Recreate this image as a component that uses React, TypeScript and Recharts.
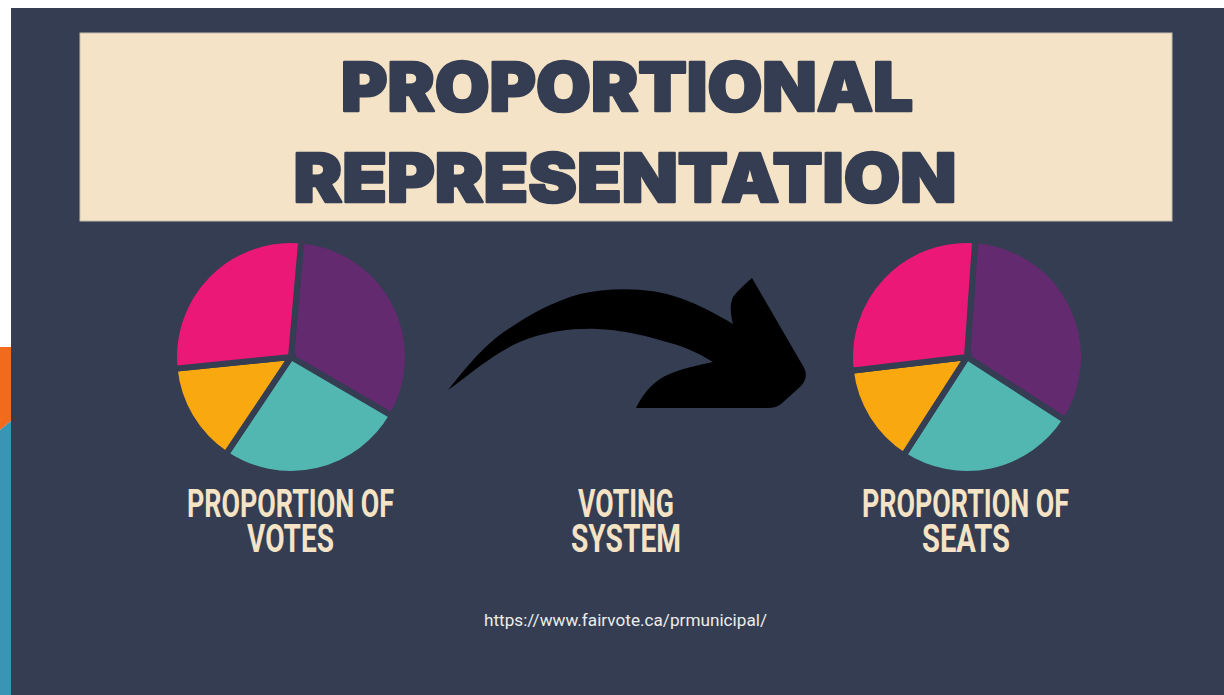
import React from "react";
import { PieChart, Pie, Cell } from "recharts";

const parties = ["Purple", "Teal", "Yellow", "Pink"];
const partyColors = ["#632a6f", "#52b6b1", "#f9a80f", "#ec1877"];
const voteShares = [32, 26, 14, 28];
const seatShares = [33, 25, 14, 28];

const titleLines = ["PROPORTIONAL", "REPRESENTATION"];
const votesLabel = ["PROPORTION OF", "VOTES"];
const systemLabel = ["VOTING", "SYSTEM"];
const seatsLabel = ["PROPORTION OF", "SEATS"];
const sourceUrl = "https://www.fairvote.ca/prmunicipal/";

const NAVY = "#343d52";
const BEIGE = "#f4e3c6";

const votesData = parties.map((p, i) => ({ name: p, value: voteShares[i] }));
const seatsData = parties.map((p, i) => ({ name: p, value: seatShares[i] }));

const W = 1224;
const H = 695;

export default function App() {
  const labelStyle: React.CSSProperties = {
    fontFamily: "Roboto, 'DejaVu Sans', sans-serif",
    fontWeight: 700,
  };
  return (
    <div style={{ position: "absolute", left: 0, top: 0, width: W, height: H, background: "#ffffff", overflow: "hidden" }}>
      {/* background layer */}
      <svg width={W} height={H} style={{ position: "absolute", left: 0, top: 0 }}>
        <rect x={0} y={0} width={W} height={H} fill="#ffffff" />
        <polygon points="0,347 11,347 11,421 0,430" fill="#f26a1b" />
        <polygon points="0,430 11,421 11,695 0,695" fill="#3a95b5" />
        <rect x={11} y={8} width={W - 11} height={H - 8} fill={NAVY} />
        <rect x={80} y={33} width={1092} height={188} fill={BEIGE} stroke="#c8bfae" strokeWidth={1} />
        <path
          d="M 448 390 C 458 378, 475 355, 497 337 C 520 320, 548 303, 580 294 C 610 287, 650 287, 680 298 C 700 305, 718 315, 733 324 C 731 316, 729 306, 733 297 C 738 290, 745 284, 752 278 L 803 366 C 808 374, 806 381, 800 387 L 781 404 C 777 407, 773 408, 768 408 L 636 408 C 642 396, 650 384, 665 376 C 680 369, 698 365, 713 362 C 697 352, 680 345, 663 341 C 640 334, 620 330, 597 329 C 575 328, 552 331, 530 338 C 510 345, 495 355, 480 366 C 468 375, 458 383, 448 390 Z"
          fill="#000000"
        />
      </svg>

      {/* pies */}
      <div style={{ position: "absolute", left: 0, top: 0 }}>
        <PieChart width={W} height={H} margin={{ top: 0, right: 0, bottom: 0, left: 0 }}>
          <Pie
            data={votesData}
            dataKey="value"
            nameKey="name"
            cx={291}
            cy={357}
            innerRadius={0}
            outerRadius={117}
            startAngle={85}
            endAngle={-275}
            stroke={NAVY}
            strokeWidth={6}
            isAnimationActive={false}
            label={false}
            labelLine={false}
          >
            {votesData.map((d, i) => (
              <Cell key={d.name} fill={partyColors[i]} stroke={NAVY} strokeWidth={6} />
            ))}
          </Pie>
          <Pie
            data={seatsData}
            dataKey="value"
            nameKey="name"
            cx={967}
            cy={357}
            innerRadius={0}
            outerRadius={117}
            startAngle={86}
            endAngle={-274}
            stroke={NAVY}
            strokeWidth={6}
            isAnimationActive={false}
            label={false}
            labelLine={false}
          >
            {seatsData.map((d, i) => (
              <Cell key={d.name} fill={partyColors[i]} stroke={NAVY} strokeWidth={6} />
            ))}
          </Pie>
        </PieChart>
      </div>

      {/* text layer */}
      <svg width={W} height={H} style={{ position: "absolute", left: 0, top: 0, pointerEvents: "none" }}>
        <g
          style={{ fontFamily: "Inter, Lato, 'DejaVu Sans', sans-serif", fontWeight: 900 }}
          fill={NAVY}
          stroke={NAVY}
          strokeWidth={2.5}
          strokeLinejoin="round"
        >
          <text x={627} y={111} fontSize={67} textAnchor="middle" textLength={572} lengthAdjust="spacingAndGlyphs">
            {titleLines[0]}
          </text>
          <text x={625} y={202} fontSize={67} textAnchor="middle" textLength={663} lengthAdjust="spacingAndGlyphs">
            {titleLines[1]}
          </text>
        </g>
        <g style={labelStyle} fill="#f5e3c5" fontSize={39}>
          <text x={290.5} y={517} textAnchor="middle" textLength={207} lengthAdjust="spacingAndGlyphs">{votesLabel[0]}</text>
          <text x={290.5} y={552} textAnchor="middle" textLength={87} lengthAdjust="spacingAndGlyphs">{votesLabel[1]}</text>
          <text x={626} y={517} textAnchor="middle" textLength={96} lengthAdjust="spacingAndGlyphs">{systemLabel[0]}</text>
          <text x={626} y={552} textAnchor="middle" textLength={110} lengthAdjust="spacingAndGlyphs">{systemLabel[1]}</text>
          <text x={965.5} y={517} textAnchor="middle" textLength={207} lengthAdjust="spacingAndGlyphs">{seatsLabel[0]}</text>
          <text x={966} y={552} textAnchor="middle" textLength={88} lengthAdjust="spacingAndGlyphs">{seatsLabel[1]}</text>
        </g>
        <text
          x={625.5}
          y={626}
          textAnchor="middle"
          fill="#ececec"
          fontSize={17}
          textLength={283}
          lengthAdjust="spacingAndGlyphs"
          style={{ fontFamily: "Roboto, 'DejaVu Sans', sans-serif" }}
        >
          {sourceUrl}
        </text>
      </svg>
    </div>
  );
}
